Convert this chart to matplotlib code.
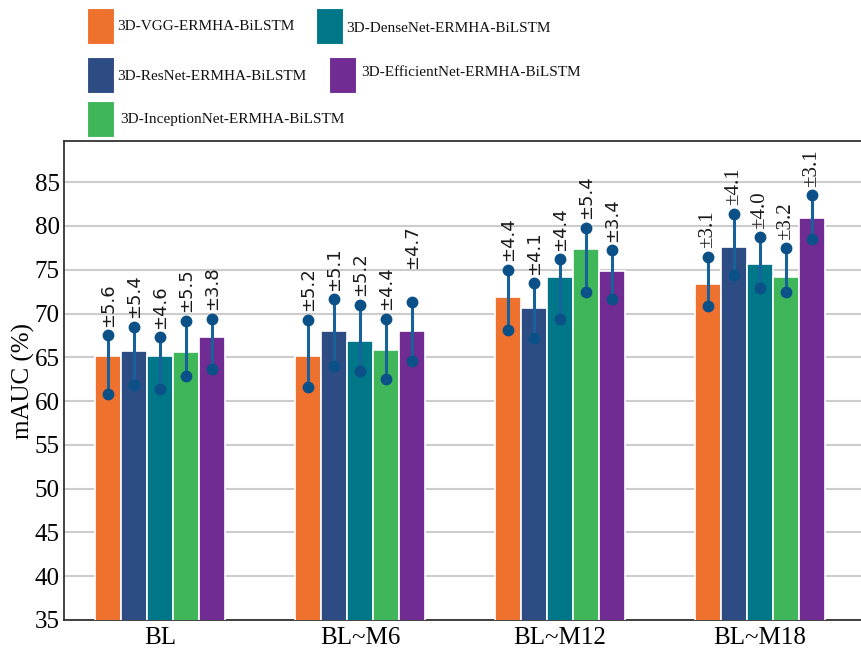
import matplotlib
matplotlib.use("Agg")
import matplotlib.pyplot as plt
from matplotlib.patches import Rectangle
import numpy as np

# ---- data ----
stages = ["BL", "BL~M6", "BL~M12", "BL~M18"]
models = [
    "3D-VGG-ERMHA-BiLSTM",
    "3D-ResNet-ERMHA-BiLSTM",
    "3D-DenseNet-ERMHA-BiLSTM",
    "3D-InceptionNet-ERMHA-BiLSTM",
    "3D-EfficientNet-ERMHA-BiLSTM",
]
colors = ["#EE712E", "#2E4C84", "#007788", "#3FB65A", "#702C93"]

# mean AUC per model (rows) and stage (columns)
mauc = {
    "3D-VGG-ERMHA-BiLSTM":          [65.1, 65.1, 71.9, 73.4],
    "3D-ResNet-ERMHA-BiLSTM":       [65.7, 68.0, 70.6, 77.6],
    "3D-DenseNet-ERMHA-BiLSTM":     [65.1, 66.9, 74.2, 75.7],
    "3D-InceptionNet-ERMHA-BiLSTM": [65.6, 65.8, 77.4, 74.2],
    "3D-EfficientNet-ERMHA-BiLSTM": [67.3, 68.0, 74.9, 80.9],
}
# whisker ends
err_low = {
    "3D-VGG-ERMHA-BiLSTM":          [60.8, 61.6, 68.1, 70.9],
    "3D-ResNet-ERMHA-BiLSTM":       [61.8, 64.0, 67.2, 74.4],
    "3D-DenseNet-ERMHA-BiLSTM":     [61.4, 63.4, 69.4, 72.9],
    "3D-InceptionNet-ERMHA-BiLSTM": [62.9, 62.5, 72.4, 72.4],
    "3D-EfficientNet-ERMHA-BiLSTM": [63.7, 64.6, 71.6, 78.5],
}
err_high = {
    "3D-VGG-ERMHA-BiLSTM":          [67.5, 69.3, 75.0, 76.5],
    "3D-ResNet-ERMHA-BiLSTM":       [68.5, 71.6, 73.5, 81.4],
    "3D-DenseNet-ERMHA-BiLSTM":     [67.3, 71.0, 76.2, 78.7],
    "3D-InceptionNet-ERMHA-BiLSTM": [69.2, 69.4, 79.8, 77.5],
    "3D-EfficientNet-ERMHA-BiLSTM": [69.4, 71.3, 77.2, 83.5],
}
# reported standard deviations
std = {
    "3D-VGG-ERMHA-BiLSTM":          [5.6, 5.2, 4.4, 3.1],
    "3D-ResNet-ERMHA-BiLSTM":       [5.4, 5.1, 4.1, 4.1],
    "3D-DenseNet-ERMHA-BiLSTM":     [4.6, 5.2, 4.4, 4.0],
    "3D-InceptionNet-ERMHA-BiLSTM": [5.5, 4.4, 5.4, 3.2],
    "3D-EfficientNet-ERMHA-BiLSTM": [3.8, 4.7, 3.4, 3.1],
}
yticks = [35, 40, 45, 50, 55, 60, 65, 70, 75, 80, 85]

# ---- figure ----
W, H, DPI = 861, 648, 100
fig = plt.figure(figsize=(W / DPI, H / DPI), dpi=DPI)
serif = "Liberation Serif"

ax = fig.add_axes([64 / W, 1 - 620 / H, 1 - 64 / W, (620 - 141) / H])
bar_w = 0.13
x = np.arange(len(stages))
err_color = "#0B5188"
line_color = "#17629A"

for i, m in enumerate(models):
    xs = x + (i - 2) * bar_w
    ax.bar(xs, mauc[m], width=bar_w, color=colors[i], edgecolor="white",
           linewidth=1.2, zorder=3)
    for j in range(len(stages)):
        lo, hi = err_low[m][j], err_high[m][j]
        ax.plot([xs[j], xs[j]], [lo, hi], color=line_color, lw=2.2,
                zorder=4, solid_capstyle="butt")
        ax.plot([xs[j], xs[j]], [lo, hi], ls="none", marker="o", ms=7.5,
                color=err_color, zorder=5)
        if j == 3:
            fam, fs = serif, 15
        else:
            fam, fs = "DejaVu Sans", 13
        extra = 18 if (j == 1 and i == 4) else 0
        ax.annotate(f"±{std[m][j]:.1f}", xy=(xs[j], hi),
                    xytext=(0, 6 + extra), textcoords="offset points",
                    rotation=90, ha="center", va="bottom",
                    fontsize=fs, family=fam, color="#1a1a1a", zorder=6)

ax.set_xlim(-0.48, 3.505)
ax.set_ylim(35, 89.7)
ax.set_yticks(yticks)
ax.set_yticklabels([str(t) for t in yticks], family=serif, fontsize=18)
ax.set_xticks(x)
ax.set_xticklabels(stages, family=serif, fontsize=18)
ax.tick_params(axis="both", length=0, pad=3)
ax.tick_params(axis="x", pad=5)
ax.set_ylabel("mAUC (%)", family=serif, fontsize=18, labelpad=0)
ax.grid(axis="y", color="#cccccc", lw=1.5, zorder=0)
ax.set_axisbelow(True)
for s in ["left", "bottom", "top"]:
    ax.spines[s].set_color("#333333")
    ax.spines[s].set_linewidth(1.3)
ax.spines["right"].set_visible(False)

# ---- legend drawn at the top of the figure ----
legend_layout = [
    # (model index, square left px, square top px, text left px, text centre px)
    (0, 87, 8, 117, 26),
    (2, 316, 8, 346, 29),
    (1, 87, 57, 117, 76),
    (4, 329, 57, 361, 73),
    (3, 87, 101, 120, 119),
]
for idx, sx, sy, tx, ty in legend_layout:
    fig.patches.append(Rectangle((sx / W, 1 - (sy + 36) / H), 27 / W, 36 / H,
                                 transform=fig.transFigure, facecolor=colors[idx],
                                 edgecolor="white", lw=0.8))
    fig.text(tx / W, 1 - ty / H, models[idx], family=serif, fontsize=11,
             ha="left", va="center", color="#111111")

fig.savefig("out.png", dpi=DPI)
